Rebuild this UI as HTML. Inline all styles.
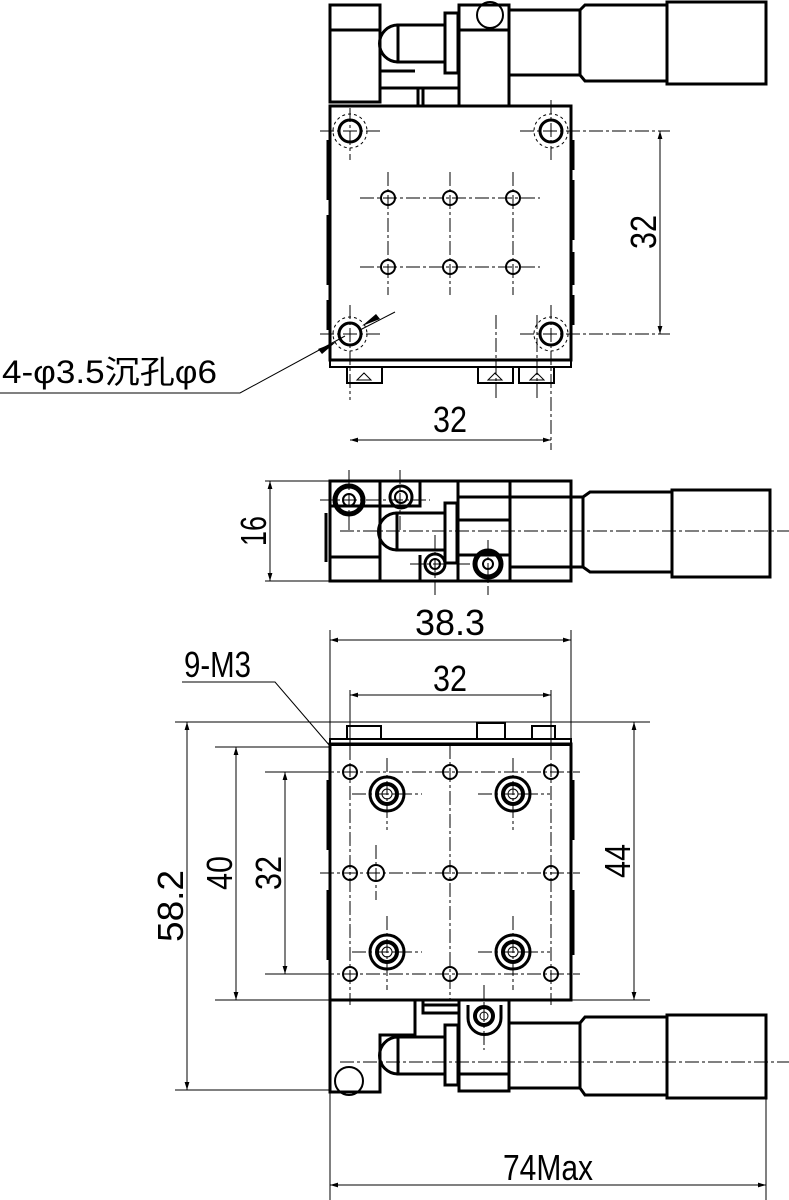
<!DOCTYPE html>
<html><head><meta charset="utf-8"><style>
html,body{margin:0;padding:0;background:#fff}
svg{display:block}
text{font-family:"Liberation Sans","Noto Sans CJK SC",sans-serif;font-size:36px;fill:#000}
.t{stroke:#000;stroke-width:3;fill:none}
.m{stroke:#000;stroke-width:2;fill:none}
.n{stroke:#000;stroke-width:1;fill:none}
.c{stroke:#000;stroke-width:1;fill:none;stroke-dasharray:14 3 3 3}
.d{stroke:#000;stroke-width:1;fill:none;stroke-dasharray:3 3}
</style></head><body>
<svg width="789" height="1200" viewBox="0 0 789 1200" xmlns="http://www.w3.org/2000/svg">
<defs>
<marker id="a" viewBox="0 0 10 10" refX="10" refY="5" markerWidth="18" markerHeight="8" orient="auto-start-reverse" markerUnits="userSpaceOnUse"><path d="M0,2 L10,5 L0,8 z" fill="#000"/></marker>
</defs>

<!-- ===== TOP VIEW ===== -->
<rect class="t" x="330" y="5" width="50" height="97"/>
<line class="t" x1="330" y1="30" x2="380" y2="30"/>
<path class="t" d="M398,25 A18,18 0 0 0 398,62"/>
<rect class="t" x="398" y="25" width="47" height="37"/>
<rect class="t" x="445" y="13" width="13" height="60"/>
<path class="t" d="M380,71 H415 M380,88 H459 M423,88 V106 M418,88 V106"/>
<rect class="t" x="459" y="5" width="50" height="101"/>
<line class="t" x1="459" y1="30" x2="509" y2="30"/>
<circle class="m" cx="490" cy="15" r="13"/>
<rect class="t" x="509" y="10" width="71" height="65"/>
<path class="t" d="M580,10 L585,5 H667 V81 H585 L580,75"/>
<rect class="t" x="667" y="2" width="99" height="82"/>
<rect class="t" x="330" y="106" width="241" height="254"/>
<rect class="m" x="330" y="360" width="241" height="7"/>
<path class="t" d="M328,140 V200 M328,215 V285 M328,300 V330 M573,140 V170 M573,180 V240 M573,252 V285 M573,295 V325"/>
<g class="m">
<path d="M347,367 V383 H382 V367"/><path d="M478,367 V383 H513 V367"/><path d="M519,367 V383 H554 V367"/>
</g>
<g class="n"><path d="M357,380 L364,373 L371,380 Z M488,380 L495,373 L502,380 Z M530,380 L537,373 L544,380 Z"/></g>
<g class="t">
<circle cx="350" cy="131" r="11"/><circle cx="551" cy="131" r="11"/><circle cx="350" cy="334" r="11"/><circle cx="551" cy="334" r="11"/>
</g>
<g class="d">
<circle cx="350" cy="131" r="17"/><circle cx="551" cy="131" r="17"/><circle cx="350" cy="334" r="17"/><circle cx="551" cy="334" r="17"/>
</g>
<g class="m">
<circle cx="388" cy="198" r="7"/><circle cx="450" cy="198" r="7"/><circle cx="513" cy="198" r="7"/>
<circle cx="388" cy="267" r="7"/><circle cx="450" cy="267" r="7"/><circle cx="513" cy="267" r="7"/>
</g>
<g class="c">
<path d="M360,198 H540 M360,267 H540 M388,172 V295 M450,172 V295 M513,172 V295"/>
<path d="M320,131 H380 M520,131 H670 M350,108 V160 M551,100 V160 M320,334 H380 M520,334 H670 M350,305 V400 M551,305 V450 M496,315 V400 M537,315 V400"/>
</g>
<line class="n" x1="660" y1="131" x2="660" y2="334" marker-start="url(#a)" marker-end="url(#a)"/>
<text transform="translate(656,232) rotate(-90)" text-anchor="middle" textLength="34" lengthAdjust="spacingAndGlyphs">32</text>
<line class="n" x1="350" y1="440" x2="551" y2="440" marker-start="url(#a)" marker-end="url(#a)"/>
<text x="450" y="432" text-anchor="middle" textLength="34" lengthAdjust="spacingAndGlyphs">32</text>
<text x="2" y="383" style="font-size:32px" textLength="215" lengthAdjust="spacingAndGlyphs">4-φ3.5沉孔φ6</text>
<path class="n" d="M0,393 H240 L345,336"/>
<line class="n" x1="360" y1="330" x2="395" y2="312"/>
<path d="M380,319 L362,326 L376,314 Z" fill="#000"/>
<path d="M318,349 L336,342 L322,354 Z" fill="#000"/>

<!-- ===== MIDDLE VIEW ===== -->
<rect class="t" x="330" y="481" width="241" height="100"/>
<path class="t" d="M326,513 V562 M380,481 V581 M330,506 H380 M330,557 H380 M380,506 H420 V481 M458,481 V581 M458,497 H510 M458,520 H510 M458,555 H510 M510,481 V581 M420,555 V581"/>
<path class="t" d="M397,513 A18,18 0 0 0 397,550"/>
<rect class="t" x="397" y="513" width="48" height="37"/>
<rect class="t" x="445" y="503" width="12" height="60"/>
<rect class="t" x="510" y="497" width="73" height="70"/>
<path class="t" d="M583,497 L590,492 H672 V572 H590 L583,567"/>
<rect class="t" x="672" y="490" width="98" height="87"/>
<circle cx="349" cy="500" r="14" fill="none" stroke="#000" stroke-width="5"/><circle class="m" cx="349" cy="500" r="6"/>
<circle class="t" cx="401" cy="497" r="11"/><circle class="m" cx="401" cy="497" r="6"/>
<circle class="t" cx="435" cy="564" r="10"/><circle class="m" cx="435" cy="564" r="5"/>
<circle cx="488" cy="564" r="13" fill="none" stroke="#000" stroke-width="5"/><circle class="m" cx="488" cy="564" r="5"/>
<path class="c" d="M340,531 H789 M320,500 H430 M349,470 V530 M400,470 V530 M410,564 H470 M435,535 V595 M488,540 V595"/>
<path class="n" d="M265,481 H330 M265,581 H330"/>
<line class="n" x1="270" y1="481" x2="270" y2="581" marker-start="url(#a)" marker-end="url(#a)"/>
<text transform="translate(266,531) rotate(-90)" text-anchor="middle" textLength="30" lengthAdjust="spacingAndGlyphs">16</text>

<!-- ===== BOTTOM VIEW ===== -->
<path class="n" d="M330,630 V1200 M571,630 V740 M766,1095 V1200 M350,690 V760 M551,690 V760"/>
<line class="n" x1="330" y1="640" x2="571" y2="640" marker-start="url(#a)" marker-end="url(#a)"/>
<text x="450" y="635" text-anchor="middle" textLength="70" lengthAdjust="spacingAndGlyphs">38.3</text>
<line class="n" x1="350" y1="695" x2="551" y2="695" marker-start="url(#a)" marker-end="url(#a)"/>
<text x="450" y="691" text-anchor="middle" textLength="34" lengthAdjust="spacingAndGlyphs">32</text>
<text x="184" y="677" textLength="67" lengthAdjust="spacingAndGlyphs">9-M3</text>
<path class="n" d="M182,682 H275 L330,746"/>
<g class="m">
<path d="M347,740 V726 H381 V740"/><path d="M477,740 V723 H505 V740"/><path d="M532,740 V726 H555 V740"/>
</g>
<rect class="m" x="330" y="739" width="241" height="6"/>
<rect class="t" x="330" y="744" width="241" height="256"/>
<path class="t" d="M328,780 V850 M328,890 V960 M573,780 V840 M573,890 V955"/>
<g class="m">
<circle cx="350" cy="772" r="7"/><circle cx="450" cy="772" r="7"/><circle cx="551" cy="772" r="7"/>
<circle cx="350" cy="873" r="7"/><circle cx="376" cy="873" r="8"/><circle cx="450" cy="873" r="7"/><circle cx="551" cy="873" r="7"/>
<circle cx="350" cy="974" r="7"/><circle cx="450" cy="974" r="7"/><circle cx="551" cy="974" r="7"/>
</g>
<g>
<circle cx="387" cy="794" r="17" fill="none" stroke="#000" stroke-width="3"/><circle cx="387" cy="794" r="10" fill="none" stroke="#000" stroke-width="4"/><circle class="n" cx="387" cy="794" r="5"/>
<circle cx="513" cy="794" r="17" fill="none" stroke="#000" stroke-width="3"/><circle cx="513" cy="794" r="10" fill="none" stroke="#000" stroke-width="4"/><circle class="n" cx="513" cy="794" r="5"/>
<circle cx="387" cy="952" r="17" fill="none" stroke="#000" stroke-width="3"/><circle cx="387" cy="952" r="10" fill="none" stroke="#000" stroke-width="4"/><circle class="n" cx="387" cy="952" r="5"/>
<circle cx="513" cy="952" r="17" fill="none" stroke="#000" stroke-width="3"/><circle cx="513" cy="952" r="10" fill="none" stroke="#000" stroke-width="4"/><circle class="n" cx="513" cy="952" r="5"/>
</g>
<g class="c">
<path d="M320,772 H580 M320,873 H580 M320,974 H580 M350,740 V1005 M450,745 V1000 M551,740 V1005 M376,845 V900"/>
<path d="M352,794 H422 M478,794 H550 M352,952 H422 M478,952 H550 M387,758 V830 M513,758 V830 M387,916 V990 M513,916 V990"/>
</g>
<!-- lower fitting -->
<path class="t" d="M330,1000 V1092 H380 V1035 H415 V1000 M380,1075 V1092"/>
<path class="t" d="M423,1000 V1013 H459 M423,1005 H459"/>
<circle class="m" cx="349" cy="1081" r="14"/>
<path class="t" d="M398,1037 A18,18 0 0 0 398,1074"/>
<rect class="t" x="398" y="1037" width="47" height="37"/>
<rect class="t" x="445" y="1025" width="13" height="60"/>
<rect class="t" x="459" y="1000" width="50" height="91"/>
<line class="t" x1="459" y1="1074" x2="509" y2="1074"/>
<path class="t" d="M468,1005 V1018 A16,16 0 0 0 501,1018 V1005"/>
<circle cx="484" cy="1016" r="9" fill="none" stroke="#000" stroke-width="4"/><circle class="n" cx="484" cy="1016" r="4"/>
<rect class="t" x="509" y="1023" width="71" height="65"/>
<path class="t" d="M580,1023 L585,1017 H667 V1095 H585 L580,1088"/>
<rect class="t" x="667" y="1015" width="99" height="83"/>
<path class="c" d="M340,1062 H789 M484,985 V1050"/>
<!-- dims -->
<path class="n" d="M175,722 H650 M215,747 H330 M265,772 H330 M215,1000 H650 M265,974 H330 M175,1090 H330"/>
<line class="n" x1="187" y1="722" x2="187" y2="1090" marker-start="url(#a)" marker-end="url(#a)"/>
<text transform="translate(183,906) rotate(-90)" text-anchor="middle" textLength="72" lengthAdjust="spacingAndGlyphs">58.2</text>
<line class="n" x1="236" y1="747" x2="236" y2="1000" marker-start="url(#a)" marker-end="url(#a)"/>
<text transform="translate(232,873) rotate(-90)" text-anchor="middle" textLength="34" lengthAdjust="spacingAndGlyphs">40</text>
<line class="n" x1="285" y1="772" x2="285" y2="974" marker-start="url(#a)" marker-end="url(#a)"/>
<text transform="translate(281,873) rotate(-90)" text-anchor="middle" textLength="34" lengthAdjust="spacingAndGlyphs">32</text>
<line class="n" x1="634" y1="722" x2="634" y2="1000" marker-start="url(#a)" marker-end="url(#a)"/>
<text transform="translate(630,861) rotate(-90)" text-anchor="middle" textLength="34" lengthAdjust="spacingAndGlyphs">44</text>
<line class="n" x1="330" y1="1185" x2="766" y2="1185" marker-start="url(#a)" marker-end="url(#a)"/>
<text x="548" y="1180" text-anchor="middle" textLength="90" lengthAdjust="spacingAndGlyphs">74Max</text>
</svg>
</body></html>
